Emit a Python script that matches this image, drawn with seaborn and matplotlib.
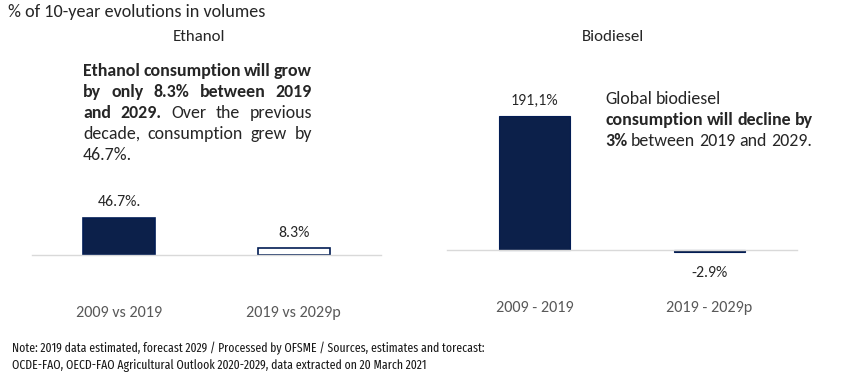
import matplotlib
matplotlib.use("Agg")
import matplotlib.pyplot as plt
import seaborn as sns
import pandas as pd
from matplotlib import font_manager

# ---- data ----
eth_cats = ["2009 vs 2019", "2019 vs 2029p"]
eth_vals = [46.7, 8.3]
eth_labels = ["46.7%.", "8.3%"]
bio_cats = ["2009 - 2019", "2019 - 2029p"]
bio_vals = [191.1, -2.9]
bio_labels = ["191,1%", "-2.9%"]

NAVY = "#021C54"
TXT = "#262626"
TICK = "#595959"
GRID = "#D9D9D9"

names = {f.name for f in font_manager.fontManager.ttflist}
def pick(cands):
    for c in cands:
        if c in names:
            return c
    return "DejaVu Sans"
FONT = pick(["Carlito", "Lato", "Open Sans"])
NARROW = pick(["Fira Sans Extra Condensed", "Barlow Condensed", "Roboto Condensed",
               "PT Sans Narrow", "Archivo Narrow", "Asap Condensed", FONT])

sns.set_theme(style="white")
plt.rcParams["font.family"] = [FONT, "DejaVu Sans"]

W, H = 844, 385
fig = plt.figure(figsize=(W / 100, H / 100), dpi=100)
fig.canvas.draw()
renderer = fig.canvas.get_renderer()

def measure(word, bold=False, size=10, family=None):
    t = fig.text(0, 0, word, fontsize=size, fontweight="bold" if bold else "normal",
                 family=family or [FONT, "DejaVu Sans"])
    w = t.get_window_extent(renderer).width
    t.remove()
    return w

def fit(text, target_px, bold=False, family=None):
    return 10.0 * target_px / measure(text, bold, 10.0, family)

TICK_FS = fit("2009 - 2019", 78)
VAL_FS = fit("191,1%", 48)
TITLE_FS = fit("% of 10-year evolutions in volumes", 258)
SUB_FS = fit("Biodiesel", 62)
SZ = fit("consumption will decline by", 208, bold=True)

def frac_box(x0, x1, ytop, ybot):
    return [x0 / W, 1 - ybot / H, (x1 - x0) / W, (ybot - ytop) / H]

def setup(ax, base_px, scale, ytop=60, ybot=290, ticks=True):
    ax.set_ylim(-(ybot - base_px) / scale, (base_px - ytop) / scale)
    ax.set_xlim(-0.5, 1.5)
    for s in ["top", "right", "left"]:
        ax.spines[s].set_visible(False)
    ax.spines["bottom"].set_position(("data", 0))
    ax.spines["bottom"].set_color(GRID)
    ax.spines["bottom"].set_linewidth(1.0)
    ax.set_yticks([])
    ax.set_xlabel("")
    ax.set_ylabel("")
    ax.tick_params(axis="x", which="major", length=0, pad=37, labelsize=TICK_FS, labelcolor=TICK)
    if ticks:
        ax.set_xticks([-0.5, 0.5, 1.5], minor=True)
        ax.tick_params(axis="x", which="minor", length=5, width=1.0, color=GRID, direction="out")
    ax.set_facecolor("none")

# ---- Ethanol ----
ax1 = fig.add_axes(frac_box(32, 381, 60, 290))
df1 = pd.DataFrame({"cat": eth_cats, "val": eth_vals})
sns.barplot(data=df1, x="cat", y="val", hue="cat", palette=[NAVY, "white"],
            edgecolor=NAVY, linewidth=1.2, width=0.41, legend=False, ax=ax1)
setup(ax1, 255, 0.8, ticks=True)
for cont, lab in zip(ax1.containers, eth_labels):
    ax1.bar_label(cont, labels=[lab], padding=6, fontsize=VAL_FS, color=TXT)

# ---- Biodiesel ----
ax2 = fig.add_axes(frac_box(447, 797, 60, 290))
df2 = pd.DataFrame({"cat": bio_cats, "val": bio_vals})
sns.barplot(data=df2, x="cat", y="val", hue="cat", palette=[NAVY, NAVY],
            edgecolor=NAVY, linewidth=0.8, width=0.41, legend=False, ax=ax2)
setup(ax2, 250, 0.70, ticks=False)
for cont, lab, v in zip(ax2.containers, bio_labels, bio_vals):
    ax2.bar_label(cont, labels=[lab], padding=6 if v > 0 else 10, fontsize=VAL_FS, color=TXT)

# ---- titles ----
fig.text(8 / W, 1 - 12 / H, "% of 10-year evolutions in volumes", ha="left", va="center",
         fontsize=TITLE_FS, color=TXT)
fig.text(199 / W, 1 - 37 / H, "Ethanol", ha="center", va="center", fontsize=SUB_FS, color=TXT)
fig.text(613 / W, 1 - 37 / H, "Biodiesel", ha="center", va="center", fontsize=SUB_FS, color=TXT)

# ---- annotation helper (word placement, optional justification) ----
def draw_line(segs, x0, x1, base, size, justify):
    widths = [measure(w, b, size) for w, b in segs]
    if justify and len(segs) > 1:
        gap = (x1 - x0 - sum(widths)) / (len(segs) - 1)
    else:
        gap = measure("a a", False, size) - measure("aa", False, size)
    x = x0
    for (w, b), wd in zip(segs, widths):
        fig.text(x / W, 1 - base / H, w, fontsize=size, fontweight="bold" if b else "normal",
                 color=TXT, ha="left", va="baseline")
        x += wd + gap

def words(s, bold):
    return [(w, bold) for w in s.split()]

left_lines = [
    (words("Ethanol consumption will grow", True), True),
    (words("by only 8.3% between 2019", True), True),
    (words("and 2029.", True) + words("Over the previous", False), True),
    (words("decade, consumption grew by", False), True),
    (words("46.7%.", False), False),
]
for i, (segs, just) in enumerate(left_lines):
    draw_line(segs, 83, 312, 76 + 21 * i, SZ, just)

right_lines = [
    words("Global biodiesel", False),
    words("consumption will decline by", True),
    words("3%", True) + words("between 2019 and 2029.", False),
]
for i, segs in enumerate(right_lines):
    draw_line(segs, 605, 830, 104 + 21 * i, SZ, False)

# ---- footnote ----
note1 = "Note: 2019 data estimated, forecast 2029 / Processed by OFSME / Sources, estimates and torecast:"
note2 = "OCDE-FAO, OECD-FAO Agricultural Outlook 2020-2029, data extracted on 20 March 2021"
nf = [NARROW, "DejaVu Sans"]
fs = min(fit(note1, 470, family=nf), 11.5)
fig.text(12 / W, 1 - 348 / H, note1, ha="left", va="center", fontsize=fs, color="#1a1a1a", family=nf)
fig.text(12 / W, 1 - 366 / H, note2, ha="left", va="center", fontsize=fs, color="#1a1a1a", family=nf)

fig.savefig("out.png", dpi=100, facecolor="white")
